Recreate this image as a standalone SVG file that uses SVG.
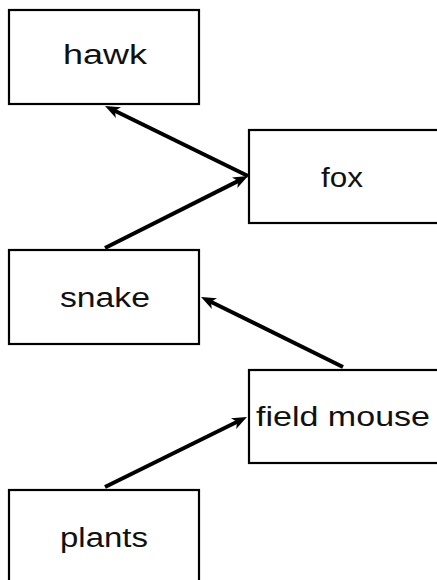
<svg xmlns="http://www.w3.org/2000/svg" width="437" height="580" viewBox="0 0 437 580">
<style>
.box{fill:#fff;stroke:#000;stroke-width:2.2}
.lbl{font-family:"Liberation Sans",Arial,sans-serif;font-size:27px;fill:#111;text-anchor:middle}
.edge{stroke:#000;stroke-width:4;fill:none;marker-end:url(#ah)}
</style>
<defs>
<marker id="ah" markerUnits="userSpaceOnUse" markerWidth="18" markerHeight="14" viewBox="0 -7 18 14" refX="7" refY="0" orient="auto">
<path d="M0,-6 L15,0 L0,6 L4,0 z" fill="#000"/>
</marker>
</defs>
<rect width="437" height="580" fill="#fff"/>
<g id="connectors">
<line class="edge" x1="248" y1="176" x2="112.2" y2="109.5"/>
<line class="edge" x1="105" y1="248" x2="240.9" y2="179.6"/>
<line class="edge" x1="343" y1="367" x2="208.2" y2="300.5"/>
<line class="edge" x1="105" y1="487" x2="239.8" y2="420.5"/>
</g>
<g id="hawk">
<rect class="box" x="9" y="10" width="190" height="94"/>
<text class="lbl" x="105" y="64" textLength="84" lengthAdjust="spacingAndGlyphs">hawk</text>
</g>
<g id="fox">
<rect class="box" x="249" y="130" width="192" height="93"/>
<text class="lbl" x="342" y="187" textLength="42" lengthAdjust="spacingAndGlyphs">fox</text>
</g>
<g id="snake">
<rect class="box" x="9" y="250" width="190" height="94"/>
<text class="lbl" x="105" y="307" textLength="90" lengthAdjust="spacingAndGlyphs">snake</text>
</g>
<g id="field-mouse">
<rect class="box" x="249" y="370" width="192" height="93"/>
<text class="lbl" x="343" y="426" textLength="174" lengthAdjust="spacingAndGlyphs">field mouse</text>
</g>
<g id="plants">
<rect class="box" x="9" y="490" width="190" height="94"/>
<text class="lbl" x="104" y="547" textLength="88" lengthAdjust="spacingAndGlyphs">plants</text>
</g>
</svg>
